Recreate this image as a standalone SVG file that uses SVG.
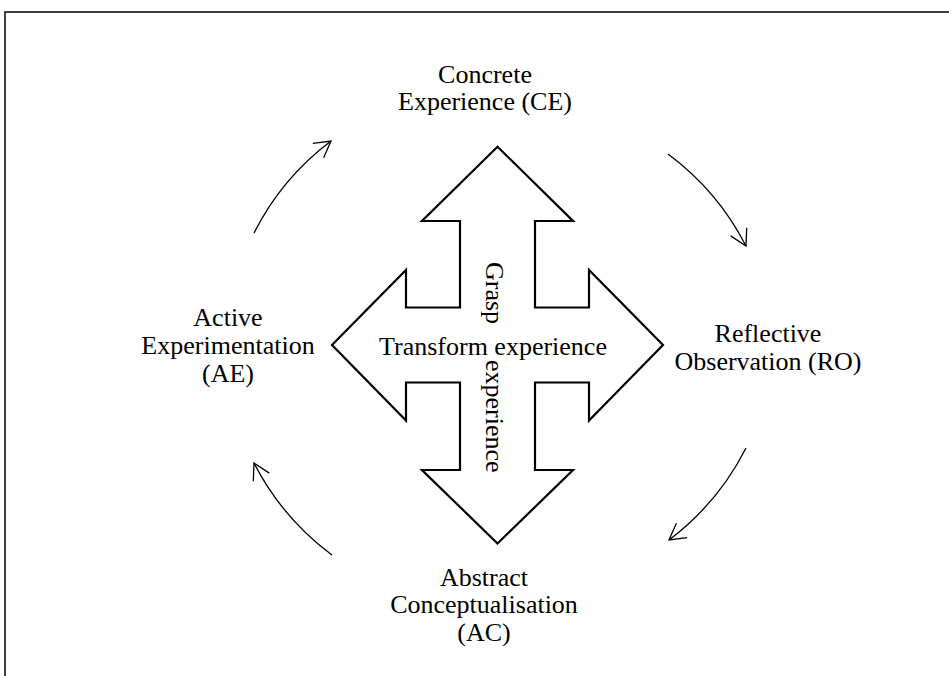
<svg xmlns="http://www.w3.org/2000/svg" width="949" height="676" viewBox="0 0 949 676">
<style>
.lbl{font-family:"Liberation Serif","Times New Roman",serif;font-size:26px;fill:#000;text-anchor:middle}
.cross{fill:#fff;stroke:#000;stroke-width:2.2;stroke-linejoin:miter}
.cyc{fill:none;stroke:#000;stroke-width:1.3;marker-end:url(#ah)}
</style>
<defs>
<marker id="ah" markerUnits="userSpaceOnUse" viewBox="-20 -12 22 24" markerWidth="22" markerHeight="24" refX="0" refY="0" orient="auto">
<path d="M-16,-9 L0,0 L-16,9" fill="none" stroke="#000" stroke-width="1.3"/>
</marker>
</defs>
<rect width="949" height="676" fill="#fff"/>
<path d="M5,676 L5,12 L949,12" fill="none" stroke="#000" stroke-width="1.5"/>
<g id="cross">
<path class="cross" d="M497.5,146.7 L573,221 L535,221 L535,307.5 L589,307.5 L589,270 L663,345 L589,420.5 L589,382.5 L535,382.5 L535,470 L573,470 L497.5,543.5 L422,470 L460,470 L460,382.5 L406,382.5 L406,420.5 L332,345 L406,270 L406,307.5 L460,307.5 L460,221 L422,221 Z"/>
<text class="lbl" x="493" y="355">Transform experience</text>
<text class="lbl" style="text-anchor:start" transform="translate(486,262) rotate(90)"><tspan x="0" y="0">Grasp</tspan><tspan x="98" y="0">experience</tspan></text>
</g>
<g id="ce"><text class="lbl" x="485" y="83">Concrete</text><text class="lbl" x="485" y="110">Experience (CE)</text></g>
<g id="ro"><text class="lbl" x="768" y="342">Reflective</text><text class="lbl" x="768" y="370">Observation (RO)</text></g>
<g id="ac"><text class="lbl" x="484" y="586">Abstract</text><text class="lbl" x="484" y="613">Conceptualisation</text><text class="lbl" x="484" y="641">(AC)</text></g>
<g id="ae"><text class="lbl" x="228" y="326">Active</text><text class="lbl" x="228" y="354">Experimentation</text><text class="lbl" x="228" y="382">(AE)</text></g>
<g id="connectors">
<path class="cyc" d="M254,233 A265,265 0 0 1 331,141"/>
<path class="cyc" d="M668,154 A265,265 0 0 1 746,246"/>
<path class="cyc" d="M746,448 A265,265 0 0 1 669,540"/>
<path class="cyc" d="M332,555 A265,265 0 0 1 254,463"/>
</g>
</svg>
